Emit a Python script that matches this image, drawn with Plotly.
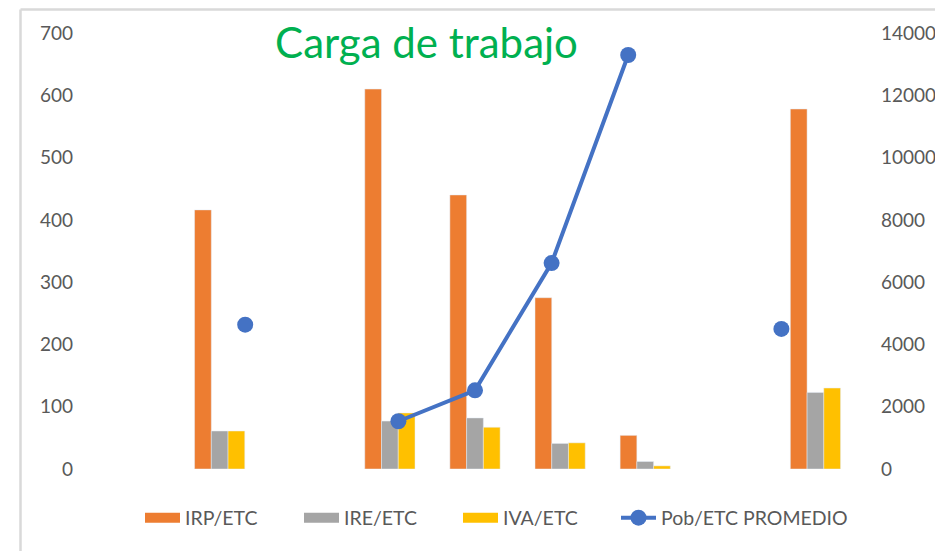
import plotly.graph_objects as go

# Bar categories (9 slots, three empty) and values
bar_slots = [0, 1, 2, 3, 4, 5, 6, 7, 8]
irp_etc = [None, 416, None, 610, 440, 275, 54, None, 578]
ire_etc = [None, 61, None, 77, 82, 41, 12, None, 123]
iva_etc = [None, 61, None, 90, 67, 42, 5, None, 130]

# Line series (11 slots on its own secondary category axis)
line_slots = [0, 1, 2, 3, 4, 5, 6, 7, 8, 9, 10]
pob_etc = [None, None, 4635, None, 1533, 2527, 6613, 13294, None, 4497, None]

left_ticks = [0, 100, 200, 300, 400, 500, 600, 700]
right_ticks = [0, 2000, 4000, 6000, 8000, 10000, 12000, 14000]

bar_names = ["IRP/ETC", "IRE/ETC", "IVA/ETC"]
bar_colors = ["#ED7D31", "#A5A5A5", "#FFC000"]
line_name = "Pob/ETC PROMEDIO"
line_color = "#4472C4"

FONT = "Lato"
TICK_COLOR = "#595959"

W, H = 943, 551
ML, MT, PW, PH = 84, 25, 766, 436
MR = W - ML - PW
MB = H - MT - PH
OFF = 8  # page offset of the figure in the browser

fig = go.Figure()
for name, vals, col in zip(bar_names, [irp_etc, ire_etc, iva_etc], bar_colors):
    fig.add_trace(go.Bar(x=bar_slots, y=vals, name=name, marker_color=col,
                         legendgroup=name, showlegend=False))
    # legend-only swatch drawn as a wide, thick line (like the Excel rectangle key)
    fig.add_trace(go.Scatter(x=[None], y=[None], name=name, mode="lines",
                             line=dict(color=col, width=12), legendgroup=name,
                             legend="legend"))

fig.add_trace(go.Scatter(x=line_slots, y=pob_etc, name=line_name,
                         xaxis="x2", yaxis="y2", mode="lines+markers",
                         connectgaps=False,
                         line=dict(color=line_color, width=4),
                         marker=dict(color=line_color, size=16),
                         legend="legend2"))

legend_common = dict(orientation="h", xref="container", yref="container",
                     xanchor="left", yanchor="middle", y=1 - (518 - OFF) / H,
                     font=dict(size=19.5, color=TICK_COLOR), itemwidth=35,
                     traceorder="normal", bgcolor="rgba(0,0,0,0)")

fig.update_layout(
    width=W, height=H,
    margin=dict(l=ML, r=MR, t=MT, b=MB),
    paper_bgcolor="white", plot_bgcolor="white",
    font=dict(family=FONT, color=TICK_COLOR, size=19),
    barmode="group", bargap=0.41, bargroupgap=0,
    title=dict(text="Carga de trabajo", font=dict(family=FONT, size=42, color="#00B050"),
               xref="container", x=(426.5 - OFF) / W, xanchor="center",
               yref="container", y=1 - (43 - OFF) / H, yanchor="middle"),
    xaxis=dict(range=[-0.5, 8.5], showticklabels=False, showgrid=False,
               zeroline=False, showline=False, ticks=""),
    xaxis2=dict(range=[0, 10], overlaying="x", visible=False),
    yaxis=dict(range=[0, 700], tickvals=left_ticks, showgrid=False, zeroline=False,
               showline=False, ticks="", ticklabelstandoff=18,
               tickfont=dict(size=19, color=TICK_COLOR)),
    yaxis2=dict(range=[0, 14000], tickvals=right_ticks, tickformat="d",
                overlaying="y", side="right",
                showgrid=False, zeroline=False, showline=False, ticks="",
                ticklabelstandoff=22, tickfont=dict(size=19, color=TICK_COLOR)),
    legend=dict(legend_common, x=(140 - OFF) / W, entrywidth=109, entrywidthmode="pixels"),
    legend2=dict(legend_common, x=(616 - OFF) / W),
    showlegend=True,
)

# Chart-area border (light gray), visible on left and top like the cropped original
def sx(px):
    return (px - OFF - ML) / PW
def sy(py):
    return (MT + PH - (py - OFF)) / PH

fig.add_shape(type="line", xref="paper", yref="paper",
              x0=sx(20.5), x1=sx(20.5), y0=sy(9.5), y1=sy(570),
              line=dict(color="#D9D9D9", width=2.5), layer="above")
fig.add_shape(type="line", xref="paper", yref="paper",
              x0=sx(20.5), x1=sx(970), y0=sy(9.5), y1=sy(9.5),
              line=dict(color="#D9D9D9", width=2.5), layer="above")

fig.write_html("out.html")
